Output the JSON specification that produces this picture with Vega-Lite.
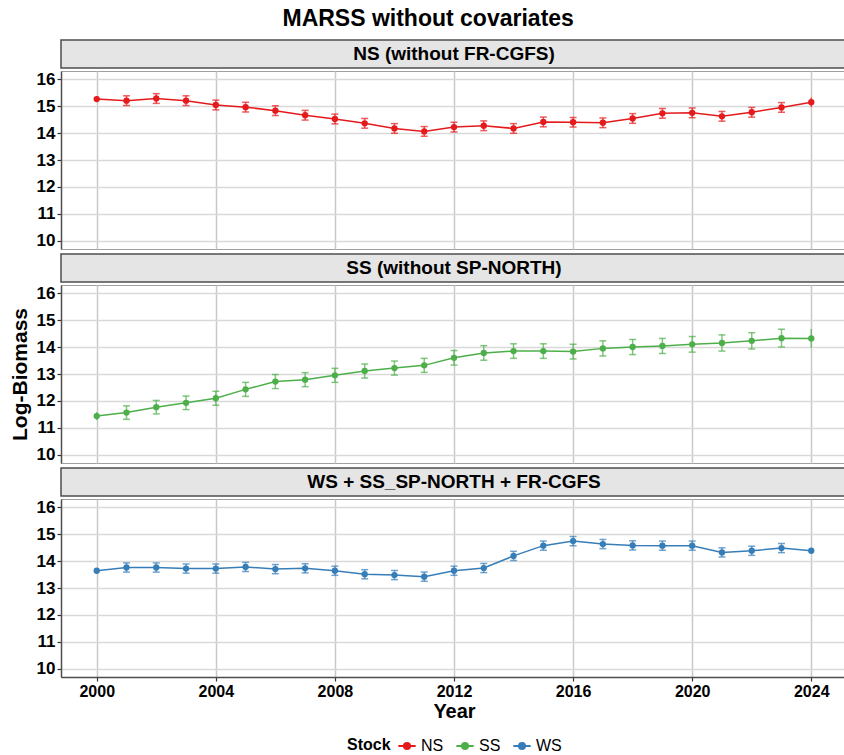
{
  "$schema": "https://vega.github.io/schema/vega-lite/v6.json",
  "background": "white",
  "padding": {"left": 8, "top": 8, "right": 0, "bottom": 0},
  "title": {"text": "MARSS without covariates", "fontSize": 23, "fontWeight": "bold", "font": "Liberation Sans", "color": "black", "anchor": "middle", "offset": 8},
  "datasets": {
    "est": [
      {"Stock":"NS","Year":2000,"Mean":15.26,"Lo":15.15,"Hi":15.37},
      {"Stock":"NS","Year":2001,"Mean":15.20,"Lo":15.02,"Hi":15.38},
      {"Stock":"NS","Year":2002,"Mean":15.28,"Lo":15.10,"Hi":15.46},
      {"Stock":"NS","Year":2003,"Mean":15.20,"Lo":15.02,"Hi":15.38},
      {"Stock":"NS","Year":2004,"Mean":15.04,"Lo":14.86,"Hi":15.22},
      {"Stock":"NS","Year":2005,"Mean":14.96,"Lo":14.78,"Hi":15.14},
      {"Stock":"NS","Year":2006,"Mean":14.83,"Lo":14.65,"Hi":15.01},
      {"Stock":"NS","Year":2007,"Mean":14.66,"Lo":14.48,"Hi":14.84},
      {"Stock":"NS","Year":2008,"Mean":14.52,"Lo":14.34,"Hi":14.70},
      {"Stock":"NS","Year":2009,"Mean":14.36,"Lo":14.18,"Hi":14.54},
      {"Stock":"NS","Year":2010,"Mean":14.17,"Lo":13.99,"Hi":14.35},
      {"Stock":"NS","Year":2011,"Mean":14.06,"Lo":13.88,"Hi":14.24},
      {"Stock":"NS","Year":2012,"Mean":14.22,"Lo":14.04,"Hi":14.40},
      {"Stock":"NS","Year":2013,"Mean":14.27,"Lo":14.09,"Hi":14.45},
      {"Stock":"NS","Year":2014,"Mean":14.17,"Lo":13.99,"Hi":14.35},
      {"Stock":"NS","Year":2015,"Mean":14.41,"Lo":14.23,"Hi":14.59},
      {"Stock":"NS","Year":2016,"Mean":14.40,"Lo":14.22,"Hi":14.58},
      {"Stock":"NS","Year":2017,"Mean":14.38,"Lo":14.20,"Hi":14.56},
      {"Stock":"NS","Year":2018,"Mean":14.54,"Lo":14.36,"Hi":14.72},
      {"Stock":"NS","Year":2019,"Mean":14.73,"Lo":14.55,"Hi":14.91},
      {"Stock":"NS","Year":2020,"Mean":14.75,"Lo":14.57,"Hi":14.93},
      {"Stock":"NS","Year":2021,"Mean":14.62,"Lo":14.44,"Hi":14.80},
      {"Stock":"NS","Year":2022,"Mean":14.77,"Lo":14.59,"Hi":14.95},
      {"Stock":"NS","Year":2023,"Mean":14.95,"Lo":14.77,"Hi":15.13},
      {"Stock":"NS","Year":2024,"Mean":15.14,"Lo":14.96,"Hi":15.32},
      {"Stock":"SS","Year":2000,"Mean":11.44,"Lo":11.29,"Hi":11.59},
      {"Stock":"SS","Year":2001,"Mean":11.57,"Lo":11.32,"Hi":11.82},
      {"Stock":"SS","Year":2002,"Mean":11.77,"Lo":11.52,"Hi":12.02},
      {"Stock":"SS","Year":2003,"Mean":11.93,"Lo":11.68,"Hi":12.18},
      {"Stock":"SS","Year":2004,"Mean":12.10,"Lo":11.84,"Hi":12.36},
      {"Stock":"SS","Year":2005,"Mean":12.43,"Lo":12.17,"Hi":12.69},
      {"Stock":"SS","Year":2006,"Mean":12.72,"Lo":12.46,"Hi":12.98},
      {"Stock":"SS","Year":2007,"Mean":12.79,"Lo":12.53,"Hi":13.05},
      {"Stock":"SS","Year":2008,"Mean":12.95,"Lo":12.69,"Hi":13.21},
      {"Stock":"SS","Year":2009,"Mean":13.11,"Lo":12.85,"Hi":13.37},
      {"Stock":"SS","Year":2010,"Mean":13.22,"Lo":12.96,"Hi":13.48},
      {"Stock":"SS","Year":2011,"Mean":13.32,"Lo":13.06,"Hi":13.58},
      {"Stock":"SS","Year":2012,"Mean":13.60,"Lo":13.33,"Hi":13.87},
      {"Stock":"SS","Year":2013,"Mean":13.78,"Lo":13.51,"Hi":14.05},
      {"Stock":"SS","Year":2014,"Mean":13.85,"Lo":13.58,"Hi":14.12},
      {"Stock":"SS","Year":2015,"Mean":13.85,"Lo":13.58,"Hi":14.12},
      {"Stock":"SS","Year":2016,"Mean":13.83,"Lo":13.56,"Hi":14.10},
      {"Stock":"SS","Year":2017,"Mean":13.95,"Lo":13.67,"Hi":14.23},
      {"Stock":"SS","Year":2018,"Mean":14.00,"Lo":13.72,"Hi":14.28},
      {"Stock":"SS","Year":2019,"Mean":14.04,"Lo":13.76,"Hi":14.32},
      {"Stock":"SS","Year":2020,"Mean":14.10,"Lo":13.81,"Hi":14.39},
      {"Stock":"SS","Year":2021,"Mean":14.15,"Lo":13.85,"Hi":14.45},
      {"Stock":"SS","Year":2022,"Mean":14.23,"Lo":13.93,"Hi":14.53},
      {"Stock":"SS","Year":2023,"Mean":14.33,"Lo":14.00,"Hi":14.66},
      {"Stock":"SS","Year":2024,"Mean":14.32,"Lo":13.97,"Hi":14.67},
      {"Stock":"WS","Year":2000,"Mean":13.64,"Lo":13.55,"Hi":13.73},
      {"Stock":"WS","Year":2001,"Mean":13.76,"Lo":13.59,"Hi":13.93},
      {"Stock":"WS","Year":2002,"Mean":13.76,"Lo":13.59,"Hi":13.93},
      {"Stock":"WS","Year":2003,"Mean":13.72,"Lo":13.55,"Hi":13.89},
      {"Stock":"WS","Year":2004,"Mean":13.72,"Lo":13.55,"Hi":13.89},
      {"Stock":"WS","Year":2005,"Mean":13.78,"Lo":13.61,"Hi":13.95},
      {"Stock":"WS","Year":2006,"Mean":13.70,"Lo":13.53,"Hi":13.87},
      {"Stock":"WS","Year":2007,"Mean":13.73,"Lo":13.56,"Hi":13.90},
      {"Stock":"WS","Year":2008,"Mean":13.64,"Lo":13.47,"Hi":13.81},
      {"Stock":"WS","Year":2009,"Mean":13.51,"Lo":13.34,"Hi":13.68},
      {"Stock":"WS","Year":2010,"Mean":13.48,"Lo":13.31,"Hi":13.65},
      {"Stock":"WS","Year":2011,"Mean":13.42,"Lo":13.25,"Hi":13.59},
      {"Stock":"WS","Year":2012,"Mean":13.64,"Lo":13.47,"Hi":13.81},
      {"Stock":"WS","Year":2013,"Mean":13.74,"Lo":13.57,"Hi":13.91},
      {"Stock":"WS","Year":2014,"Mean":14.19,"Lo":14.02,"Hi":14.36},
      {"Stock":"WS","Year":2015,"Mean":14.57,"Lo":14.40,"Hi":14.74},
      {"Stock":"WS","Year":2016,"Mean":14.74,"Lo":14.57,"Hi":14.91},
      {"Stock":"WS","Year":2017,"Mean":14.63,"Lo":14.46,"Hi":14.80},
      {"Stock":"WS","Year":2018,"Mean":14.58,"Lo":14.41,"Hi":14.75},
      {"Stock":"WS","Year":2019,"Mean":14.57,"Lo":14.40,"Hi":14.74},
      {"Stock":"WS","Year":2020,"Mean":14.57,"Lo":14.40,"Hi":14.74},
      {"Stock":"WS","Year":2021,"Mean":14.32,"Lo":14.15,"Hi":14.49},
      {"Stock":"WS","Year":2022,"Mean":14.38,"Lo":14.21,"Hi":14.55},
      {"Stock":"WS","Year":2023,"Mean":14.48,"Lo":14.31,"Hi":14.65},
      {"Stock":"WS","Year":2024,"Mean":14.38,"Lo":14.35,"Hi":14.41}
    ],
    "labels": [
      {"Stock":"NS","Panel":"NS (without FR-CGFS)"},
      {"Stock":"SS","Panel":"SS (without SP-NORTH)"},
      {"Stock":"WS","Panel":"WS + SS_SP-NORTH + FR-CGFS"}
    ]
  },
  "spacing": 3,
  "vconcat": [
    {"spacing": 0, "vconcat": [
      {"width": 786, "height": 28, "data": {"name": "labels"}, "transform": [{"filter": "datum.Stock === 'NS'"}],
       "view": {"fill": "#E5E5E5", "stroke": "#4D4D4D", "strokeWidth": 1.5},
       "mark": {"type": "text", "fontSize": 19, "fontWeight": "bold", "color": "black", "baseline": "middle", "align": "center"},
       "encoding": {"text": {"field": "Panel"}}},
      {"width": 786, "height": 178, "data": {"name": "est"}, "transform": [{"filter": "datum.Stock === 'NS'"}],
       "view": {"stroke": "#A0A0A0", "strokeWidth": 1},
       "encoding": {
         "x": {"field": "Year", "type": "quantitative", "scale": {"domain": [1998.8, 2025.2], "nice": false, "zero": false},
               "axis": {"values": [2000,2004,2008,2012,2016,2020,2024], "labels": false, "ticks": false, "domain": false, "title": null, "gridColor": "#C8C8C8", "labelPadding": 0}},
         "color": {"field": "Stock", "type": "nominal", "title": "Stock", "scale": {"domain": ["NS","SS","WS"], "range": ["#E41A1C","#4DAF4A","#377EB8"]}}
       },
       "layer": [
         {"mark": {"type": "rule", "strokeWidth": 1.5, "opacity": 0.7},
          "encoding": {"y": {"field": "Lo", "type": "quantitative", "title": null, "scale": {"domain": [9.7, 16.3], "nice": false, "zero": false}, "axis": {"values": [10,11,12,13,14,15,16]}}, "y2": {"field": "Hi"}}},
         {"transform": [{"filter": "datum.Year > 2000 && datum.Year < 2024"}], "mark": {"type": "tick", "orient": "horizontal", "size": 7, "thickness": 1.5, "opacity": 0.7},
          "encoding": {"y": {"field": "Lo", "type": "quantitative", "title": null, "axis": {"values": [10,11,12,13,14,15,16]}}}},
         {"transform": [{"filter": "datum.Year > 2000 && datum.Year < 2024"}], "mark": {"type": "tick", "orient": "horizontal", "size": 7, "thickness": 1.5, "opacity": 0.7},
          "encoding": {"y": {"field": "Hi", "type": "quantitative", "title": null, "axis": {"values": [10,11,12,13,14,15,16]}}}},
         {"mark": {"type": "line", "strokeWidth": 1.5}, "encoding": {"y": {"field": "Mean", "type": "quantitative", "title": null, "axis": {"values": [10,11,12,13,14,15,16]}}}},
         {"mark": {"type": "point", "filled": true, "size": 40, "opacity": 1}, "encoding": {"y": {"field": "Mean", "type": "quantitative", "title": null, "axis": {"values": [10,11,12,13,14,15,16]}}}}
       ]}
    ]},
    {"spacing": 0, "vconcat": [
      {"width": 786, "height": 28, "data": {"name": "labels"}, "transform": [{"filter": "datum.Stock === 'SS'"}],
       "view": {"fill": "#E5E5E5", "stroke": "#4D4D4D", "strokeWidth": 1.5},
       "mark": {"type": "text", "fontSize": 19, "fontWeight": "bold", "color": "black", "baseline": "middle", "align": "center"},
       "encoding": {"text": {"field": "Panel"}}},
      {"width": 786, "height": 178, "data": {"name": "est"}, "transform": [{"filter": "datum.Stock === 'SS'"}],
       "view": {"stroke": "#A0A0A0", "strokeWidth": 1},
       "encoding": {
         "x": {"field": "Year", "type": "quantitative", "scale": {"domain": [1998.8, 2025.2], "nice": false, "zero": false},
               "axis": {"values": [2000,2004,2008,2012,2016,2020,2024], "labels": false, "ticks": false, "domain": false, "title": null, "gridColor": "#C8C8C8", "labelPadding": 0}},
         "color": {"field": "Stock", "type": "nominal", "title": "Stock", "scale": {"domain": ["NS","SS","WS"], "range": ["#E41A1C","#4DAF4A","#377EB8"]}}
       },
       "layer": [
         {"mark": {"type": "rule", "strokeWidth": 1.5, "opacity": 0.7},
          "encoding": {"y": {"field": "Lo", "type": "quantitative", "title": "Log-Biomass", "scale": {"domain": [9.7, 16.3], "nice": false, "zero": false}, "axis": {"values": [10,11,12,13,14,15,16]}}, "y2": {"field": "Hi"}}},
         {"transform": [{"filter": "datum.Year > 2000 && datum.Year < 2024"}], "mark": {"type": "tick", "orient": "horizontal", "size": 7, "thickness": 1.5, "opacity": 0.7},
          "encoding": {"y": {"field": "Lo", "type": "quantitative", "title": "Log-Biomass", "axis": {"values": [10,11,12,13,14,15,16]}}}},
         {"transform": [{"filter": "datum.Year > 2000 && datum.Year < 2024"}], "mark": {"type": "tick", "orient": "horizontal", "size": 7, "thickness": 1.5, "opacity": 0.7},
          "encoding": {"y": {"field": "Hi", "type": "quantitative", "title": "Log-Biomass", "axis": {"values": [10,11,12,13,14,15,16]}}}},
         {"mark": {"type": "line", "strokeWidth": 1.5}, "encoding": {"y": {"field": "Mean", "type": "quantitative", "title": "Log-Biomass", "axis": {"values": [10,11,12,13,14,15,16]}}}},
         {"mark": {"type": "point", "filled": true, "size": 40, "opacity": 1}, "encoding": {"y": {"field": "Mean", "type": "quantitative", "title": "Log-Biomass", "axis": {"values": [10,11,12,13,14,15,16]}}}}
       ]}
    ]},
    {"spacing": 0, "vconcat": [
      {"width": 786, "height": 28, "data": {"name": "labels"}, "transform": [{"filter": "datum.Stock === 'WS'"}],
       "view": {"fill": "#E5E5E5", "stroke": "#4D4D4D", "strokeWidth": 1.5},
       "mark": {"type": "text", "fontSize": 19, "fontWeight": "bold", "color": "black", "baseline": "middle", "align": "center"},
       "encoding": {"text": {"field": "Panel"}}},
      {"width": 786, "height": 178, "data": {"name": "est"}, "transform": [{"filter": "datum.Stock === 'WS'"}],
       "view": {"stroke": "#A0A0A0", "strokeWidth": 1},
       "encoding": {
         "x": {"field": "Year", "type": "quantitative", "title": "Year", "scale": {"domain": [1998.8, 2025.2], "nice": false, "zero": false},
               "axis": {"values": [2000,2004,2008,2012,2016,2020,2024], "format": "d", "gridColor": "#C8C8C8", "titlePadding": 2}},
         "color": {"field": "Stock", "type": "nominal", "title": "Stock", "scale": {"domain": ["NS","SS","WS"], "range": ["#E41A1C","#4DAF4A","#377EB8"]}}
       },
       "layer": [
         {"mark": {"type": "rule", "strokeWidth": 1.5, "opacity": 0.7},
          "encoding": {"y": {"field": "Lo", "type": "quantitative", "title": null, "scale": {"domain": [9.7, 16.3], "nice": false, "zero": false}, "axis": {"values": [10,11,12,13,14,15,16]}}, "y2": {"field": "Hi"}}},
         {"transform": [{"filter": "datum.Year > 2000 && datum.Year < 2024"}], "mark": {"type": "tick", "orient": "horizontal", "size": 7, "thickness": 1.5, "opacity": 0.7},
          "encoding": {"y": {"field": "Lo", "type": "quantitative", "title": null, "axis": {"values": [10,11,12,13,14,15,16]}}}},
         {"transform": [{"filter": "datum.Year > 2000 && datum.Year < 2024"}], "mark": {"type": "tick", "orient": "horizontal", "size": 7, "thickness": 1.5, "opacity": 0.7},
          "encoding": {"y": {"field": "Hi", "type": "quantitative", "title": null, "axis": {"values": [10,11,12,13,14,15,16]}}}},
         {"mark": {"type": "line", "strokeWidth": 1.5}, "encoding": {"y": {"field": "Mean", "type": "quantitative", "title": null, "axis": {"values": [10,11,12,13,14,15,16]}}}},
         {"mark": {"type": "point", "filled": true, "size": 40, "opacity": 1}, "encoding": {"y": {"field": "Mean", "type": "quantitative", "title": null, "axis": {"values": [10,11,12,13,14,15,16]}}}}
       ]}
    ]}
  ],
  "config": {
    "font": "Liberation Sans",
    "view": {"stroke": null},
    "axis": {"gridColor": "#D9D9D9", "gridWidth": 1.5, "tickColor": "#333333", "tickWidth": 1.2, "tickSize": 4, "domainColor": "#4D4D4D", "domainWidth": 1.5,
             "labelFontSize": 16, "labelFontWeight": "bold", "labelColor": "black", "labelPadding": 2,
             "titleFontSize": 20, "titleFontWeight": "bold", "titleColor": "black"},
    "axisY": {"titlePadding": 6, "labelFontSize": 17, "titleFontSize": 21},
    "legend": {"orient": "bottom", "direction": "horizontal", "titleOrient": "left",
               "titleFontSize": 16, "titleFontWeight": "bold", "titleColor": "black", "titlePadding": 6,
               "labelFontSize": 16, "labelColor": "black", "offset": 14,
               "symbolType": "M-1,0L1,0M-0.35,0A0.35,0.35,0,1,1,0.35,0A0.35,0.35,0,1,1,-0.35,0Z",
               "symbolSize": 300, "symbolStrokeWidth": 2, "symbolOpacity": 1, "columnPadding": 8,
               "layout": {"bottom": {"anchor": "middle"}}}
  }
}
